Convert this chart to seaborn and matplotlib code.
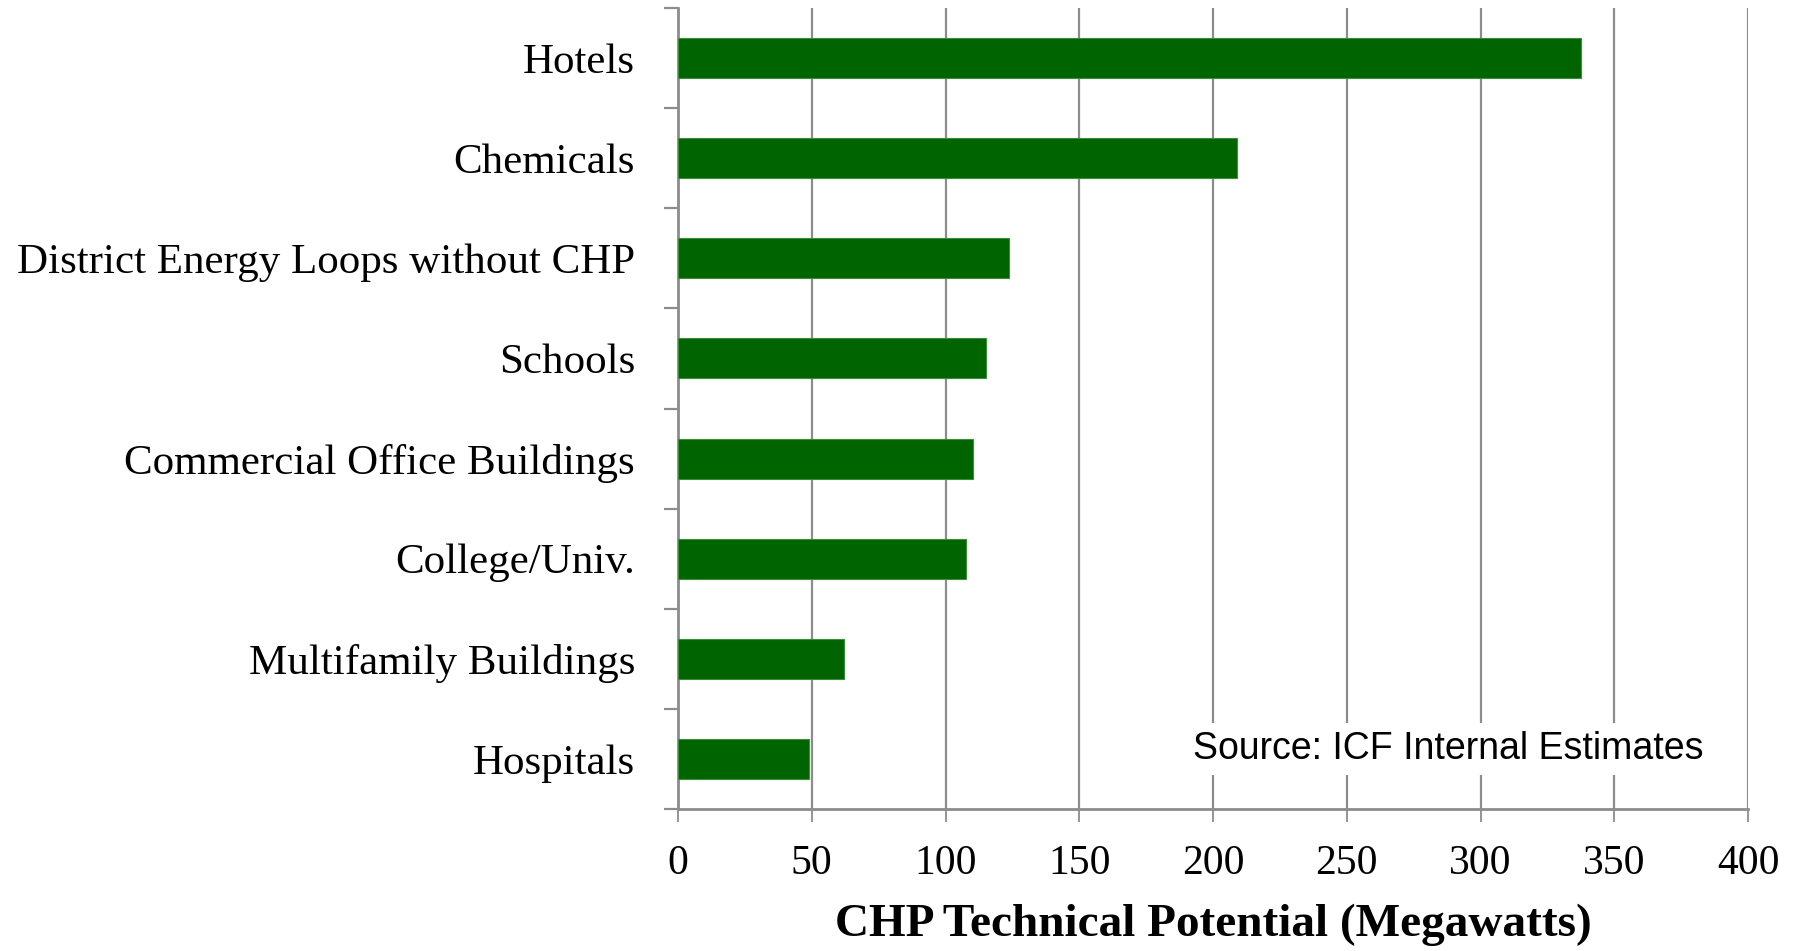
import matplotlib
matplotlib.use("Agg")
import matplotlib.pyplot as plt
import seaborn as sns
import pandas as pd
import numpy as np
from matplotlib.ticker import FixedLocator

categories = ["Hotels", "Chemicals", "District Energy Loops without CHP", "Schools",
              "Commercial Office Buildings", "College/Univ.", "Multifamily Buildings", "Hospitals"]
values = [337.5, 209, 123.8, 115, 110.3, 107.6, 62.2, 48.9]
xticks = [0, 50, 100, 150, 200, 250, 300, 350, 400]
xlabel = "CHP Technical Potential (Megawatts)"
source_note = "Source: ICF Internal Estimates"

df = pd.DataFrame({"category": categories, "value": values})

sns.set_theme(style="white")
plt.rcParams['font.family'] = ['Liberation Serif', 'DejaVu Serif']

fig = plt.figure(figsize=(18.01, 9.51), dpi=100)
ax = fig.add_axes([678/1801, 1 - 809/951, (1748 - 678)/1801, (809 - 8)/951])

sns.barplot(data=df, y="category", x="value", orient="h", color="#006400",
            width=0.4, saturation=1, edgecolor="#3c8c3c", linewidth=0.8, ax=ax, zorder=3)

grey = "#8c8c8c"
ax.set_xlim(0, 400)
ax.set_ylim(len(categories) - 0.5, -0.5)
ax.set_xticks(xticks)
ax.set_xticklabels([str(t) for t in xticks])
ax.xaxis.grid(True, color=grey, linewidth=1.6, zorder=0)
ax.yaxis.grid(False)
ax.set_axisbelow(True)

ax.spines["top"].set_visible(False)
ax.spines["right"].set_visible(False)
ax.spines["left"].set_color(grey)
ax.spines["left"].set_linewidth(2)
ax.spines["bottom"].set_color(grey)
ax.spines["bottom"].set_linewidth(2)

ax.yaxis.set_minor_locator(FixedLocator(np.arange(-0.5, len(categories), 1.0)))
ax.tick_params(axis="y", which="major", length=0, pad=31, labelsize=31, labelcolor="black")
ax.tick_params(axis="y", which="minor", length=10, width=1.6, color=grey, left=True, direction="out")
ax.tick_params(axis="x", which="major", length=9.5, width=1.3, color=grey, pad=16,
               labelsize=30, labelcolor="black", bottom=True, direction="out")

ax.set_ylabel("")
ax.set_xlabel(xlabel, fontsize=34, fontweight="bold", labelpad=15, color="black")

ax.text(288, 6.9, source_note, ha="center", va="center", fontsize=27,
        family=["Liberation Sans", "DejaVu Sans"], color="black",
        bbox=dict(facecolor="white", edgecolor="none", pad=6), zorder=4)

fig.savefig("out.png", dpi=100, facecolor="white")
